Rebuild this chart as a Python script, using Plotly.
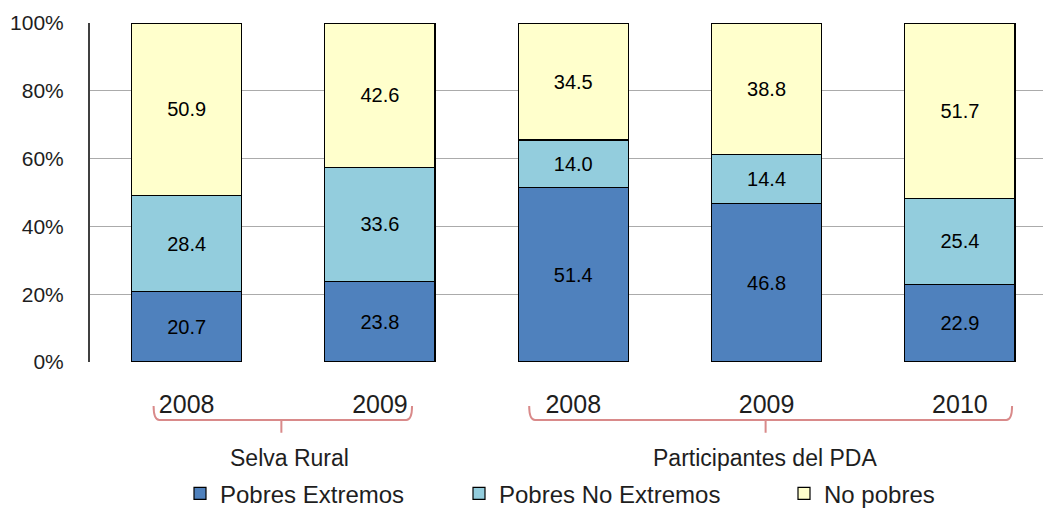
import plotly.graph_objects as go

years = ["2008", "2009", "2008", "2009", "2010"]
groups = ["Selva Rural", "Participantes del PDA"]
series_names = ["Pobres Extremos", "Pobres No Extremos", "No pobres"]
pobres_extremos = [20.7, 23.8, 51.4, 46.8, 22.9]
pobres_no_extremos = [28.4, 33.6, 14.0, 14.4, 25.4]
no_pobres = [50.9, 42.6, 34.5, 38.8, 51.7]
y_ticks = [0, 20, 40, 60, 80, 100]

colors = ["#4F81BD", "#93CDDD", "#FFFFCC"]
FONT = "Liberation Sans, Arial, sans-serif"
TXT = "#1e1e1e"

xs = list(range(len(years)))
fig = go.Figure()
legends = ["legend", "legend2", "legend3"]
for name, vals, col, lg in zip(series_names, [pobres_extremos, pobres_no_extremos, no_pobres], colors, legends):
    fig.add_trace(go.Bar(
        x=xs, y=vals, name=name, legend=lg,
        marker=dict(color=col, line=dict(color="#000000", width=1.2)),
        text=[f"{v:.1f}" for v in vals], textposition="inside",
        insidetextanchor="middle", textangle=0,
        textfont=dict(family=FONT, size=20, color="#000000"),
        hoverinfo="skip",
    ))

# braces under the category groups
brace_col = "#D98A8A"
def brace(x0, xc, x1, ytop=-0.13, yline=-0.171, ylow=-0.209):
    d = 0.03
    return (f"M {x0},{ytop} Q {x0},{yline} {x0+d},{yline} L {x1-d},{yline} "
            f"Q {x1},{yline} {x1},{ytop} M {xc},{yline} L {xc},{ylow}")

for x0, xc, x1 in [(-0.171, 0.49, 1.166), (1.772, 2.995, 4.27)]:
    fig.add_shape(type="path", path=brace(x0, xc, x1), xref="x", yref="paper",
                  line=dict(color=brace_col, width=2))

for gx, gname in zip([0.53, 2.99], groups):
    fig.add_annotation(x=gx, y=-0.282, xref="x", yref="paper", text=gname,
                       showarrow=False, xanchor="center", yanchor="middle",
                       font=dict(family=FONT, size=23, color=TXT))

leg_common = dict(orientation="h", yanchor="middle", y=-0.389, xanchor="left",
                  font=dict(family=FONT, size=24, color=TXT), bgcolor="rgba(0,0,0,0)",
                  itemclick=False, itemdoubleclick=False)
fig.update_layout(
    barmode="stack", barnorm="percent", bargap=0.43,
    width=1043, height=509, autosize=False,
    margin=dict(l=90, r=0, t=23, b=147, pad=0, autoexpand=False),
    plot_bgcolor="#FFFFFF", paper_bgcolor="#FFFFFF",
    showlegend=True,
    legend=dict(x=(180 - 90) / 953, **leg_common),
    legend2=dict(x=(459 - 90) / 953, **leg_common),
    legend3=dict(x=(784 - 90) / 953, **leg_common),
    xaxis=dict(range=[-0.5, 4.43], tickmode="array", tickvals=xs, ticktext=years,
               showgrid=False, zeroline=False, showline=False, ticks="",
               ticklabelstandoff=25, automargin=False,
               tickfont=dict(family=FONT, size=25, color=TXT)),
    yaxis=dict(range=[0, 100], tickmode="array", tickvals=y_ticks,
               ticktext=[f"{v}%" for v in y_ticks],
               showgrid=True, gridcolor="#ababab", gridwidth=1.2,
               zeroline=False, showline=True, linecolor="#404040", linewidth=2,
               ticks="", ticklabelstandoff=20, automargin=False,
               tickfont=dict(family=FONT, size=21, color=TXT)),
)
fig.write_html("out.html", config={"displayModeBar": False},
               post_script="document.body.style.margin='0';")
